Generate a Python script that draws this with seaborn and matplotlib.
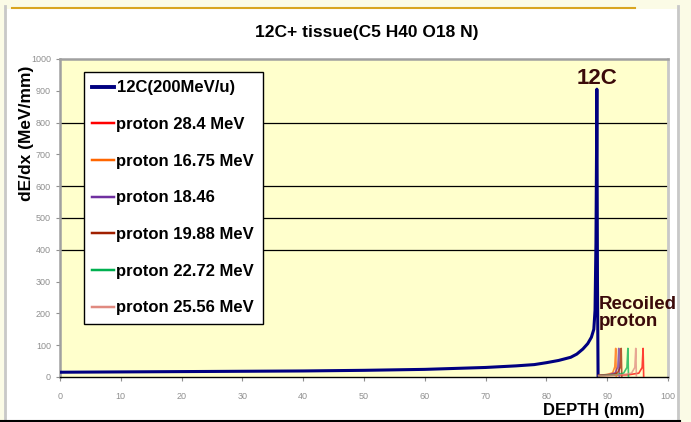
import numpy as np
import pandas as pd
import matplotlib
matplotlib.use("Agg")
import matplotlib.pyplot as plt
import seaborn as sns
from matplotlib.patches import Rectangle
from matplotlib.lines import Line2D

# 12C beam (200 MeV/u) stopping power vs depth
depth_12c = [0, 10, 20, 30, 40, 50, 60, 65, 70, 75, 78, 80, 82, 84, 85, 86,
             86.8, 87.4, 87.8, 88.0, 88.15, 88.25, 88.3, 88.4, 88.5]
dedx_12c = [15, 16, 17, 18, 19, 21, 24, 27, 30, 35, 39, 45, 52, 62, 72, 88,
            105, 125, 150, 210, 420, 720, 905, 300, 0]

# recoiled protons
depth_p284 = [88.6, 93.5, 95.2, 95.75, 95.9, 96.0]
dedx_p284 = [4, 7, 12, 30, 90, 0]
depth_p1675 = [88.6, 90.0, 90.9, 91.25, 91.4, 91.5]
dedx_p1675 = [5, 8, 13, 32, 90, 0]
depth_p1846 = [88.6, 90.4, 91.3, 91.75, 91.9, 92.0]
dedx_p1846 = [5, 8, 13, 31, 90, 0]
depth_p1988 = [88.6, 90.8, 91.7, 92.15, 92.3, 92.4]
dedx_p1988 = [5, 7, 13, 31, 90, 0]
depth_p2272 = [88.6, 91.5, 92.7, 93.25, 93.4, 93.5]
dedx_p2272 = [4, 7, 12, 30, 90, 0]
depth_p2556 = [88.6, 92.5, 94.0, 94.55, 94.7, 94.8]
dedx_p2556 = [4, 7, 12, 30, 90, 0]

labels = ["12C(200MeV/u)", "proton 28.4 MeV", "proton 16.75 MeV", "proton 18.46",
          "proton 19.88 MeV", "proton 22.72 MeV", "proton 25.56 MeV"]
colors = ["#000080", "#ff0000", "#ff6600", "#7030a0", "#a02000", "#00b050", "#e08a80"]
widths = [2.2, 1.2, 1.2, 1.2, 1.2, 1.2, 1.2]

series = [(depth_12c, dedx_12c), (depth_p284, dedx_p284), (depth_p1675, dedx_p1675),
          (depth_p1846, dedx_p1846), (depth_p1988, dedx_p1988),
          (depth_p2272, dedx_p2272), (depth_p2556, dedx_p2556)]

plt.rcParams['font.family'] = ['Liberation Sans', 'DejaVu Sans']

fig = plt.figure(figsize=(6.91, 4.22), dpi=100, facecolor="#fbfbe6")
W, H = 691, 422

# slide-like frame
fig.add_artist(Rectangle((7 / W, 1 - 421 / H), (677 - 7) / W, (421 - 9) / H,
                         transform=fig.transFigure, facecolor="white", edgecolor="none", zorder=0))
fig.add_artist(Line2D([5 / W, 5 / W], [1 - 421 / H, 1 - 6 / H], transform=fig.transFigure,
                      color="#c8c8c8", lw=2))
fig.add_artist(Line2D([678 / W, 678 / W], [1 - 421 / H, 1 - 6 / H], transform=fig.transFigure,
                      color="#c8c8c8", lw=2))
fig.add_artist(Line2D([12 / W, 635 / W], [1 - 8 / H, 1 - 8 / H], transform=fig.transFigure,
                      color="#d9a520", lw=1.5))
fig.add_artist(Line2D([0, 680 / W], [1 - 421 / H, 1 - 421 / H], transform=fig.transFigure,
                      color="black", lw=1.5))

ax = fig.add_axes([60 / W, 1 - 377 / H, (668 - 60) / W, (377 - 59) / H])
ax.set_facecolor("#ffffcc")

for gy in [400, 500, 600, 800]:
    ax.axhline(gy, color="black", lw=0.9, zorder=1)

for i, ((x, y), lab, c, lw) in enumerate(zip(series, labels, colors, widths)):
    df = pd.DataFrame({"depth": x, "dedx": y})
    sns.lineplot(data=df, x="depth", y="dedx", ax=ax, color=c, lw=lw, label=lab,
                 sort=False, estimator=None, zorder=3, alpha=1.0 if i == 0 else 0.75)

ax.set_xlim(0, 100)
ax.set_ylim(0, 1000)
ax.set_xticks(np.arange(0, 101, 10))
ax.set_yticks(np.arange(0, 1001, 100))
ax.tick_params(axis="both", labelsize=6.5, labelcolor="#909090", color="#909090", length=3)
ax.tick_params(axis="x", pad=8)
ax.set_xlabel("")
ax.set_ylabel("")

for side in ["left", "top"]:
    ax.spines[side].set_color("#a0a0a0")
    ax.spines[side].set_linewidth(1.8)
ax.spines["right"].set_color("#c8c8c8")
ax.spines["right"].set_linewidth(2)
ax.spines["bottom"].set_color("black")
ax.spines["bottom"].set_linewidth(1)

leg = ax.legend(loc="upper left", bbox_to_anchor=((84 - 60) / 608, (377 - 72) / 318),
                borderaxespad=0, frameon=True, fancybox=False, framealpha=1,
                edgecolor="black", prop={"size": 12, "weight": "bold"},
                labelspacing=1.3, handlelength=1.3, handletextpad=0.15,
                borderpad=0.5)
leg.get_frame().set_linewidth(1.0)
for h, lw in zip(leg.get_lines(), widths):
    h.set_linewidth(lw + 0.6)
    h.set_alpha(1)

ax.text(88.3, 905, "12C", color="#3b0a0a", fontsize=16, fontweight="bold",
        ha="center", va="bottom", zorder=5)
ax.text(88.6, 255, "Recoiled\nproton", color="#3b0a0a", fontsize=13.5, fontweight="bold",
        ha="left", va="top", linespacing=1.0, zorder=5, clip_on=False)

fig.text(367 / W, 1 - 32 / H, "12C+ tissue(C5 H40 O18 N)", fontsize=12.5,
         fontweight="bold", ha="center", va="center")
fig.text(27 / W, 1 - 133 / H, "dE/dx (MeV/mm)", fontsize=12.5, fontweight="bold",
         rotation=90, ha="center", va="center")
fig.text(594 / W, 1 - 410 / H, "DEPTH (mm)", fontsize=12, fontweight="bold",
         ha="center", va="center")

fig.savefig("out.png", dpi=100, facecolor=fig.get_facecolor())
